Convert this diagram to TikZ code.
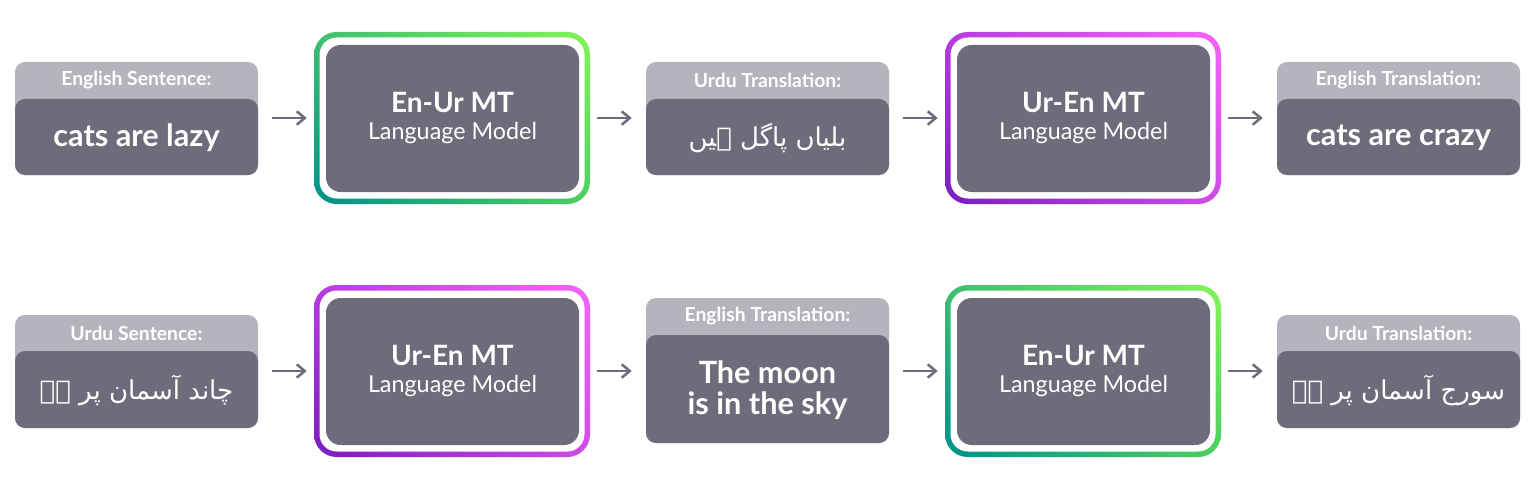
\documentclass[tikz,border=0pt]{standalone}
\usepackage{fontspec}
\setmainfont{Lato}
\newfontfamily\urdufont[Script=Arabic]{DejaVu Sans}
\TeXXeTstate=1
\usetikzlibrary{arrows.meta,fit,shadings}
\definecolor{boxdark}{HTML}{6E6C7B}
\definecolor{boxlight}{HTML}{B5B4BC}
\definecolor{arrowgray}{HTML}{6E6C7B}
\definecolor{gUL}{HTML}{3CC070}
\definecolor{gUR}{HTML}{84F458}
\definecolor{gLL}{HTML}{00908C}
\definecolor{gLR}{HTML}{4CD060}
\definecolor{pUL}{HTML}{B83CE0}
\definecolor{pUR}{HTML}{F564F8}
\definecolor{pLL}{HTML}{7A1CC0}
\definecolor{pLR}{HTML}{D04CE8}
\tikzset{
  greenring/.style={shading=bilinear interpolation, upper left=gUL, upper right=gUR, lower left=gLL, lower right=gLR},
  purplering/.style={shading=bilinear interpolation, upper left=pUL, upper right=pUR, lower left=pLL, lower right=pLR},
  hdrtext/.style={text=white, font=\bfseries\fontsize{14.5}{17}\selectfont, inner sep=0pt},
  bodytext/.style={text=white, font=\bfseries\fontsize{23}{23.5}\selectfont, inner sep=0pt, align=center},
  urdutext/.style={text=white, font=\urdufont\fontsize{19.5}{24}\selectfont, inner sep=0pt},
  titletext/.style={text=white, font=\bfseries\fontsize{21}{24}\selectfont, inner sep=0pt},
  subtext/.style={text=white, font=\fontsize{17.5}{20}\selectfont, inner sep=0pt},
  flow/.style={draw=arrowgray, line width=1.9pt, -{Straight Barb[length=6pt,width=10pt,line width=1.9pt]}},
  slot/.style={inner sep=0pt, draw=none}
}
% name, xl, xr, ytop, yhead, ybot, header, bodytextstyle, body
\newcommand{\ioBox}[9]{%
  \fill[boxlight, rounded corners=7.5pt] (#2,#4) rectangle (#3,#6);
  \fill[boxdark, rounded corners=7.5pt] (#2,#5) rectangle (#3,#6);
  \coordinate (#1-a) at (#2,#4);
  \coordinate (#1-b) at (#3,#6);
  \node[slot, fit=(#1-a)(#1-b)] (#1) {};
  \node[hdrtext] (#1-h) at ({(#2+#3)/2},{(#4+#5)/2}) {#7};
  \node[#8] (#1-t) at ({(#2+#3)/2},{(#5+#6)/2+1}) {#9};
}
% name, xl, xr, ytop, ybot, ring style, title
\newcommand{\modelBox}[7]{%
  \shade[#6, rounded corners=17pt] (#2,#4) rectangle (#3,#5);
  \fill[white, rounded corners=13pt] ({#2+5.5},{#4+5.5}) rectangle ({#3-5.5},{#5-5.5});
  \fill[boxdark, rounded corners=11pt] ({#2+12},{#4+13}) rectangle ({#3-11},{#5-12});
  \coordinate (#1-a) at (#2,#4);
  \coordinate (#1-b) at (#3,#5);
  \node[slot, fit=(#1-a)(#1-b)] (#1) {};
  \node[titletext] (#1-t) at ({(#2+#3)/2+0.5},{(#4+#5)/2-16}) {#7};
  \node[subtext] (#1-s) at ({(#2+#3)/2+0.5},{(#4+#5)/2+15}) {Language Model};
}
\begin{document}
\begin{tikzpicture}[x=0.75pt,y=-0.75pt]
\useasboundingbox[fill=white] (0,0) rectangle (1536,478);
% Row 1
\ioBox{a1}{15}{258}{62}{99}{175}{English Sentence:}{bodytext}{cats are lazy}
\modelBox{m1}{314}{590}{32}{204}{greenring}{En-Ur MT}
\ioBox{a2}{646}{889}{62}{99}{175}{Urdu Translation:}{urdutext}{\beginR بلیاں پاگل ہیں\endR}
\modelBox{m2}{945}{1221}{32}{204}{purplering}{Ur-En MT}
\ioBox{a3}{1277}{1520}{62}{99}{175}{English Translation:}{bodytext}{cats are crazy}
% Row 2
\ioBox{b1}{15}{258}{315}{351}{428}{Urdu Sentence:}{urdutext}{\beginR چاند آسمان پر ہے\endR}
\modelBox{n1}{314}{590}{285}{457}{purplering}{Ur-En MT}
\ioBox{b2}{646}{889}{298}{335}{443}{English Translation:}{bodytext}{The moon\\is in the sky}
\modelBox{n2}{945}{1221}{285}{457}{greenring}{En-Ur MT}
\ioBox{b3}{1277}{1520}{315}{351}{428}{Urdu Translation:}{urdutext}{\beginR سورج آسمان پر ہے\endR}
% Arrows
\draw[flow, shorten <=10.5pt, shorten >=5.25pt] (a1.east |- m1.west) -- (m1.west);
\draw[flow, shorten <=5.25pt, shorten >=10.5pt] (m1.east) -- (a2.west |- m1.east);
\draw[flow, shorten <=10.5pt, shorten >=5.25pt] (a2.east |- m2.west) -- (m2.west);
\draw[flow, shorten <=5.25pt, shorten >=10.5pt] (m2.east) -- (a3.west |- m2.east);
\draw[flow, shorten <=10.5pt, shorten >=5.25pt] (b1.east |- n1.west) -- (n1.west);
\draw[flow, shorten <=5.25pt, shorten >=10.5pt] (n1.east) -- (b2.west |- n1.east);
\draw[flow, shorten <=10.5pt, shorten >=5.25pt] (b2.east |- n2.west) -- (n2.west);
\draw[flow, shorten <=5.25pt, shorten >=10.5pt] (n2.east) -- (b3.west |- n2.east);
\end{tikzpicture}
\end{document}
